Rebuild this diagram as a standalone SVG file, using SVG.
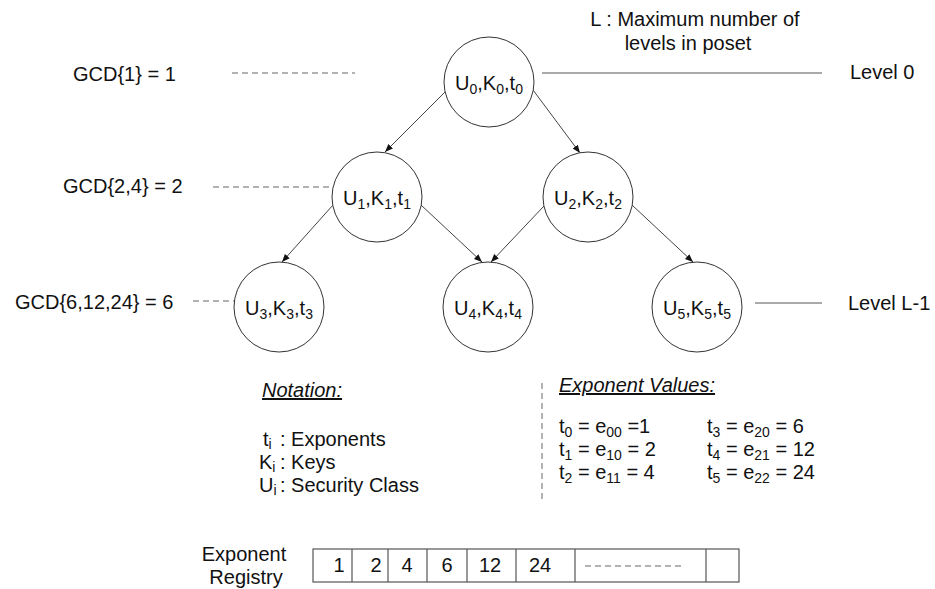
<svg xmlns="http://www.w3.org/2000/svg" width="935" height="589" viewBox="0 0 935 589">
<defs>
<marker id="arr" viewBox="0 0 10 10" refX="10" refY="5" markerWidth="8" markerHeight="8" markerUnits="userSpaceOnUse" orient="auto">
<path d="M0,1 L10,5 L0,9 z" fill="#111"/>
</marker>
<style>
text{font-family:"Liberation Sans",Arial,sans-serif;font-size:20px;fill:#111}
.sub{font-size:14px}
.node circle{fill:#fff;stroke:#333;stroke-width:1}
.edge{stroke:#444;stroke-width:1;fill:none;marker-end:url(#arr)}
.dash{stroke:#666;stroke-width:1;stroke-dasharray:6,4;fill:none}
.solid{stroke:#555;stroke-width:1;fill:none}
.cell{stroke:#555;stroke-width:1.2;fill:#fff}
.hd{font-style:italic;text-decoration:underline}
</style>
</defs>
<rect width="935" height="589" fill="#fff"/>

<g id="connectors">
<line class="edge" x1="445" y1="92" x2="385" y2="152"/>
<line class="edge" x1="533" y1="90" x2="580" y2="153"/>
<line class="edge" x1="333" y1="205" x2="282" y2="262"/>
<line class="edge" x1="421" y1="205" x2="482" y2="262"/>
<line class="edge" x1="544" y1="206" x2="491" y2="262"/>
<line class="edge" x1="632" y1="205" x2="693" y2="262"/>
</g>

<g id="level-lines">
<line class="dash" x1="232" y1="73" x2="355" y2="73"/>
<line class="dash" x1="213" y1="187" x2="330" y2="187"/>
<line class="dash" x1="193" y1="301" x2="235" y2="301"/>
<line class="solid" x1="542" y1="73" x2="822" y2="73"/>
<line class="solid" x1="755" y1="303" x2="822" y2="303"/>
<line class="dash" x1="542" y1="383" x2="542" y2="500"/>
</g>

<g id="n0" class="node"><circle cx="489" cy="82" r="45"/>
<text x="489" y="90" text-anchor="middle">U<tspan class="sub" dy="4">0</tspan><tspan dy="-4">,K</tspan><tspan class="sub" dy="4">0</tspan><tspan dy="-4">,t</tspan><tspan class="sub" dy="4">0</tspan></text></g>
<g id="n1" class="node"><circle cx="377" cy="197" r="45"/>
<text x="377" y="205" text-anchor="middle">U<tspan class="sub" dy="4">1</tspan><tspan dy="-4">,K</tspan><tspan class="sub" dy="4">1</tspan><tspan dy="-4">,t</tspan><tspan class="sub" dy="4">1</tspan></text></g>
<g id="n2" class="node"><circle cx="588" cy="197" r="45"/>
<text x="588" y="205" text-anchor="middle">U<tspan class="sub" dy="4">2</tspan><tspan dy="-4">,K</tspan><tspan class="sub" dy="4">2</tspan><tspan dy="-4">,t</tspan><tspan class="sub" dy="4">2</tspan></text></g>
<g id="n3" class="node"><circle cx="279" cy="307" r="45"/>
<text x="279" y="315" text-anchor="middle">U<tspan class="sub" dy="4">3</tspan><tspan dy="-4">,K</tspan><tspan class="sub" dy="4">3</tspan><tspan dy="-4">,t</tspan><tspan class="sub" dy="4">3</tspan></text></g>
<g id="n4" class="node"><circle cx="488" cy="307" r="45"/>
<text x="488" y="315" text-anchor="middle">U<tspan class="sub" dy="4">4</tspan><tspan dy="-4">,K</tspan><tspan class="sub" dy="4">4</tspan><tspan dy="-4">,t</tspan><tspan class="sub" dy="4">4</tspan></text></g>
<g id="n5" class="node"><circle cx="697" cy="307" r="45"/>
<text x="697" y="315" text-anchor="middle">U<tspan class="sub" dy="4">5</tspan><tspan dy="-4">,K</tspan><tspan class="sub" dy="4">5</tspan><tspan dy="-4">,t</tspan><tspan class="sub" dy="4">5</tspan></text></g>

<g id="labels">
<text x="73" y="81">GCD{1} = 1</text>
<text x="63" y="193">GCD{2,4} = 2</text>
<text x="15" y="309">GCD{6,12,24} = 6</text>
<text x="850" y="79">Level 0</text>
<text x="848" y="310">Level L-1</text>
<text x="695" y="26" text-anchor="middle">L : Maximum number of</text>
<text x="688" y="50" text-anchor="middle">levels in poset</text>
</g>

<g id="notation">
<text x="262" y="397" class="hd">Notation:</text>
<text x="263" y="446">t<tspan class="sub" dy="3">i</tspan><tspan x="280" dy="-3">: Exponents</tspan></text>
<text x="259" y="469">K<tspan class="sub" dy="3">i</tspan><tspan x="280" dy="-3">: Keys</tspan></text>
<text x="259" y="492">U<tspan class="sub" dy="3">i</tspan><tspan x="280" dy="-3">: Security Class</tspan></text>
</g>

<g id="exponents">
<text x="559" y="392" class="hd">Exponent Values:</text>
<text x="559" y="433">t<tspan class="sub" dy="4">0</tspan><tspan dy="-4"> = e</tspan><tspan class="sub" dy="4">00</tspan><tspan dy="-4"> =1</tspan></text>
<text x="559" y="456">t<tspan class="sub" dy="4">1</tspan><tspan dy="-4"> = e</tspan><tspan class="sub" dy="4">10</tspan><tspan dy="-4"> = 2</tspan></text>
<text x="559" y="479">t<tspan class="sub" dy="4">2</tspan><tspan dy="-4"> = e</tspan><tspan class="sub" dy="4">11</tspan><tspan dy="-4"> = 4</tspan></text>
<text x="707" y="433">t<tspan class="sub" dy="4">3</tspan><tspan dy="-4"> = e</tspan><tspan class="sub" dy="4">20</tspan><tspan dy="-4"> = 6</tspan></text>
<text x="707" y="456">t<tspan class="sub" dy="4">4</tspan><tspan dy="-4"> = e</tspan><tspan class="sub" dy="4">21</tspan><tspan dy="-4"> = 12</tspan></text>
<text x="707" y="479">t<tspan class="sub" dy="4">5</tspan><tspan dy="-4"> = e</tspan><tspan class="sub" dy="4">22</tspan><tspan dy="-4"> = 24</tspan></text>
</g>

<g id="registry">
<text x="244" y="561" text-anchor="middle">Exponent</text>
<text x="246" y="584" text-anchor="middle">Registry</text>
<rect class="cell" x="313" y="549" width="426" height="33"/>
<line class="cell" x1="352" y1="549" x2="352" y2="582"/>
<line class="cell" x1="388" y1="549" x2="388" y2="582"/>
<line class="cell" x1="427" y1="549" x2="427" y2="582"/>
<line class="cell" x1="467" y1="549" x2="467" y2="582"/>
<line class="cell" x1="516" y1="549" x2="516" y2="582"/>
<line class="cell" x1="575" y1="549" x2="575" y2="582"/>
<line class="cell" x1="706" y1="549" x2="706" y2="582"/>
<text x="339" y="572" text-anchor="middle">1</text>
<text x="376" y="572" text-anchor="middle">2</text>
<text x="407" y="572" text-anchor="middle">4</text>
<text x="447" y="572" text-anchor="middle">6</text>
<text x="490" y="572" text-anchor="middle">12</text>
<text x="540" y="572" text-anchor="middle">24</text>
<line class="dash" x1="585" y1="566" x2="681" y2="566"/>
</g>
</svg>
